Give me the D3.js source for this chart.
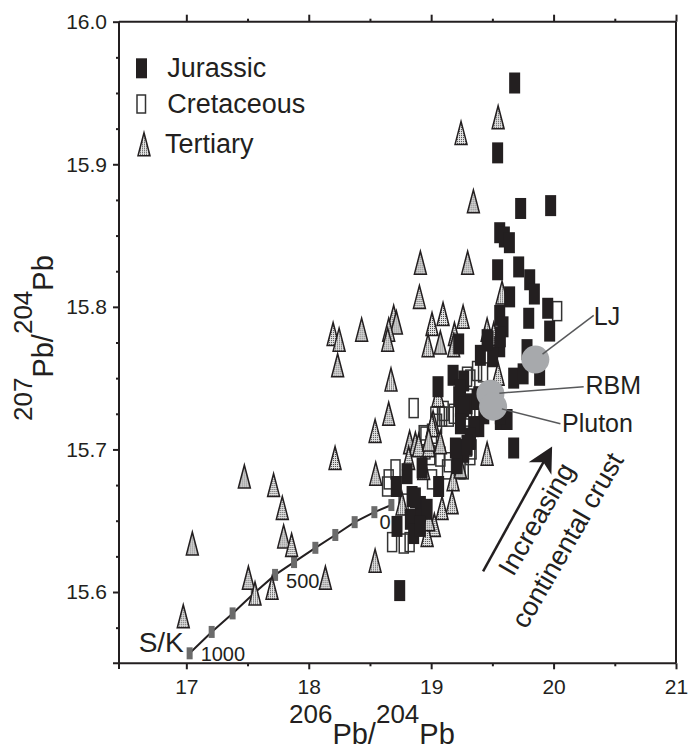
<!DOCTYPE html>
<html>
<head>
<meta charset="utf-8">
<script src="https://cdn.jsdelivr.net/npm/d3@7"></script>
<style>
  body { margin: 0; background: #fff; }
  text { font-family: "Liberation Sans", Arial, Helvetica, sans-serif; fill: #231f20; }
</style>
</head>
<body>
<div id="chart"></div>
<script>
// 206Pb/204Pb , 207Pb/204Pb
const jurassic = [
  [19.682,15.957],[19.543,15.908],[19.731,15.869],[19.976,15.871],[19.560,15.852],[19.598,15.849],
  [19.639,15.845],[19.543,15.826],[19.715,15.828],[19.805,15.819],[19.843,15.809],[19.641,15.807],
  [19.560,15.794],[19.587,15.786],[19.797,15.792],[19.952,15.799],[19.968,15.783],[19.225,15.774],
  [19.465,15.776],[19.560,15.772],[19.402,15.766],[19.502,15.765],[19.886,15.752],[19.179,15.752],
  [19.266,15.748],[19.056,15.744],[19.674,15.750],[19.751,15.753],[19.239,15.739],[19.783,15.770],
  [19.565,15.779],[19.457,15.777],[19.565,15.721],[19.674,15.701],[19.430,15.725],[19.389,15.716],
  [19.320,15.707],[19.266,15.698],[19.212,15.690],[19.239,15.730],[19.225,15.737],[19.293,15.732],
  [19.389,15.737],[19.239,15.742],[19.266,15.730],[19.239,15.718],[19.212,15.700],[19.347,15.716],
  [19.320,15.708],[19.620,15.721],[18.926,15.687],[18.803,15.683],[18.716,15.674],[18.844,15.667],
  [18.912,15.660],[18.967,15.658],[19.061,15.674],[18.830,15.651],[18.721,15.646],[18.857,15.641],
  [18.743,15.601],[18.871,15.666],[18.912,15.646],[19.198,15.701],[19.293,15.703],[19.375,15.735],
  [19.565,15.725]
];
const cretaceous = [
  [20.029,15.797],[19.424,15.754],[19.320,15.749],[18.857,15.729],[19.089,15.723],[19.144,15.723],
  [19.185,15.725],[18.953,15.709],[19.007,15.711],[19.075,15.695],[19.144,15.691],[19.239,15.686],
  [18.709,15.686],[18.640,15.674],[18.681,15.635],[18.776,15.634],[18.824,15.635],[19.048,15.718],
  [18.993,15.696],[18.653,15.679],[19.293,15.702],[19.007,15.679],[18.775,15.662],[19.293,15.751],
  [18.939,15.710],[19.034,15.723],[19.102,15.727],[19.320,15.728],[19.293,15.723],[18.953,15.700],
  [19.266,15.686],[19.130,15.686],[19.320,15.696],[19.375,15.755],[19.330,15.700]
];
const tertiary = [
  [19.547,15.933],[19.244,15.922],[19.345,15.874],[18.912,15.831],[19.298,15.831],[18.904,15.807],
  [18.694,15.793],[18.716,15.789],[18.653,15.784],[18.645,15.777],[19.007,15.788],[19.097,15.795],
  [19.261,15.793],[19.075,15.775],[18.975,15.773],[19.190,15.781],[18.432,15.784],[18.199,15.781],
  [18.248,15.777],[18.236,15.759],[18.672,15.749],[18.653,15.725],[18.542,15.713],[18.215,15.694],
  [18.547,15.683],[17.474,15.681],[17.713,15.675],[17.784,15.659],[17.795,15.639],[17.860,15.633],
  [17.049,15.634],[18.542,15.622],[17.507,15.610],[17.561,15.599],[17.700,15.603],[18.136,15.610],
  [16.975,15.583],[19.579,15.810],[19.457,15.784],[19.511,15.781],[19.547,15.753],[19.056,15.738],
  [19.457,15.697],[19.016,15.719],[18.824,15.705],[18.871,15.704],[19.075,15.705],[19.179,15.679],
  [19.171,15.663],[19.089,15.659],[19.026,15.647],[18.967,15.640],[18.762,15.662],[18.980,15.651],
  [18.939,15.687],[19.239,15.688],[18.816,15.694],[18.898,15.703],[18.980,15.703],[19.184,15.773],
  [19.007,15.717],[18.980,15.707]
];

// Stacey & Kramers growth curve, 1000 Ma to 0 Ma
const skAge = [1000, 900, 800, 700, 600, 500, 400, 300, 200, 100, 0];
const sk206 = [17.027, 17.207, 17.378, 17.551, 17.725, 17.880, 18.054, 18.217, 18.375, 18.536, 18.675];
const sk207 = [15.557, 15.572, 15.585, 15.599, 15.612, 15.621, 15.631, 15.640, 15.649, 15.656, 15.661];

// intrusive bodies (grey circles)
const bodyNames = ["LJ", "RBM", "Pluton"];
const body206 = [19.851, 19.484, 19.506];
const body207 = [15.763, 15.739, 15.730];
const bodyLabel206 = [20.328, 20.260, 20.069];
const bodyLabel207 = [15.787, 15.739, 15.712];
const bodyLineEnd206 = [20.328, 20.246, 20.056];
const bodyLineEnd207 = [15.794, 15.744, 15.718];

const xTicks = [17, 18, 19, 20, 21];
const xMinor = [17.5, 18.5, 19.5, 20.5];
const yTicks = [15.6, 15.7, 15.8, 15.9, 16.0];
const yMinor = [15.575, 15.625, 15.65, 15.675, 15.725, 15.75, 15.775, 15.825, 15.85, 15.875, 15.925, 15.95, 15.975];

const width = 695, height = 750;
const svg = d3.select("#chart").append("svg")
  .attr("width", width).attr("height", height);

const x = d3.scaleLinear().domain([16.45, 21]).range([119, 676]);
const y = d3.scaleLinear().domain([15.55, 16.0]).range([663.3, 21.7]);

// stipple fill for the Tertiary triangles
const pat = svg.append("defs").append("pattern")
  .attr("id", "stip").attr("patternUnits", "userSpaceOnUse")
  .attr("width", 2).attr("height", 2);
pat.append("rect").attr("width", 2).attr("height", 2).attr("fill", "#e4e4e4");
pat.append("rect").attr("width", 1).attr("height", 1).attr("fill", "#444");

// axes
function styleAxis(g) {
  g.select(".domain").remove();
  g.selectAll(".tick line").attr("stroke", "#231f20").attr("stroke-width", 2);
  g.selectAll(".tick text").attr("font-size", 21).attr("fill", "#231f20")
    .attr("font-family", '"Liberation Sans", Arial, sans-serif');
}
svg.append("g").attr("transform", "translate(0,663.3)")
  .call(d3.axisBottom(x).tickValues(xTicks).tickSize(6).tickPadding(10).tickFormat(d3.format("d")))
  .call(styleAxis);
svg.append("g").attr("transform", "translate(0,663.3)")
  .call(d3.axisBottom(x).tickValues(xMinor).tickSize(3).tickFormat(""))
  .call(styleAxis);
svg.append("g").attr("transform", "translate(0,21.7)")
  .call(d3.axisTop(x).tickValues(xTicks).tickSize(7).tickFormat(""))
  .call(styleAxis);
svg.append("g").attr("transform", "translate(0,21.7)")
  .call(d3.axisTop(x).tickValues(xMinor).tickSize(3).tickFormat(""))
  .call(styleAxis);
svg.append("g").attr("transform", "translate(119,0)")
  .call(d3.axisLeft(y).tickValues(yTicks).tickSize(6).tickPadding(6).tickFormat(d3.format(".1f")))
  .call(styleAxis);
svg.append("g").attr("transform", "translate(119,0)")
  .call(d3.axisLeft(y).tickValues(yMinor).tickSize(3).tickFormat(""))
  .call(styleAxis);

// frame
const frame = svg.append("g").attr("stroke", "#231f20").attr("stroke-width", 2);
frame.append("line").attr("x1", 113).attr("x2", 676).attr("y1", y(15.55)).attr("y2", y(15.55));
frame.append("line").attr("x1", 119).attr("x2", 676).attr("y1", y(16)).attr("y2", y(16));
frame.append("line").attr("x1", x(16.45)).attr("x2", x(16.45)).attr("y1", y(16)).attr("y2", 669);
frame.append("line").attr("x1", x(21)).attr("x2", x(21)).attr("y1", y(16)).attr("y2", y(15.55));

// axis titles
const xt = svg.append("text").attr("x", 289).attr("y", 744);
xt.append("tspan").attr("font-size", 26).attr("dy", -21).text("206");
xt.append("tspan").attr("font-size", 29).attr("dy", 21).text("Pb/");
xt.append("tspan").attr("font-size", 26).attr("dy", -21).text("204");
xt.append("tspan").attr("font-size", 29).attr("dy", 21).text("Pb");

const yt = svg.append("text").attr("transform", "translate(53,421) rotate(-90)");
yt.append("tspan").attr("font-size", 26).attr("dy", -21).text("207");
yt.append("tspan").attr("font-size", 29).attr("dy", 21).text("Pb/");
yt.append("tspan").attr("font-size", 26).attr("dy", -21).text("204");
yt.append("tspan").attr("font-size", 29).attr("dy", 21).text("Pb");

// S/K growth curve
const sk = skAge.map((a, i) => ({age: a, x: sk206[i], y: sk207[i]}));
svg.append("path").datum(sk)
  .attr("fill", "none").attr("stroke", "#231f20").attr("stroke-width", 2)
  .attr("d", d3.line().x(d => x(d.x)).y(d => y(d.y)));
svg.selectAll("rect.sk").data(sk).join("rect").attr("class", "sk")
  .attr("x", d => x(d.x) - 3).attr("y", d => y(d.y) - 6)
  .attr("width", 6).attr("height", 12).attr("fill", "#6b6b6b");

svg.append("text").attr("x", x(sk[0].x) - 51).attr("y", y(sk[0].y) - 1)
  .attr("font-size", 28).text("S/K");
svg.append("text").attr("x", x(sk[0].x) + 11).attr("y", y(sk[0].y) + 8)
  .attr("font-size", 20).text("1000");
svg.append("text").attr("x", x(sk[5].x) - 8).attr("y", y(sk[5].y) + 26)
  .attr("font-size", 20).text("500");
svg.append("text").attr("x", x(sk[10].x) - 12).attr("y", y(sk[10].y) + 24)
  .attr("font-size", 20).attr("font-family", '"Liberation Serif", "Times New Roman", serif').text("0");

// samples
const tri = "M0,-11.5L6,11.5L-6,11.5Z";
svg.selectAll("rect.cret").data(cretaceous).join("rect").attr("class", "cret")
  .attr("x", d => x(d[0]) - 4.5).attr("y", d => y(d[1]) - 9.5)
  .attr("width", 9).attr("height", 19)
  .attr("fill", "none").attr("stroke", "#333").attr("stroke-width", 1.5);
svg.selectAll("path.tert").data(tertiary).join("path").attr("class", "tert")
  .attr("transform", d => `translate(${x(d[0])},${y(d[1])})`)
  .attr("d", tri).attr("fill", "url(#stip)").attr("stroke", "#231f20").attr("stroke-width", 1.5);
svg.selectAll("rect.jur").data(jurassic).join("rect").attr("class", "jur")
  .attr("x", d => x(d[0]) - 5.5).attr("y", d => y(d[1]) - 10.5)
  .attr("width", 11).attr("height", 21).attr("fill", "#231f20");

// grey circles + leader lines
const bodies = bodyNames.map((n, i) => ({
  name: n, x: body206[i], y: body207[i],
  lx: bodyLabel206[i], ly: bodyLabel207[i], ex: bodyLineEnd206[i], ey: bodyLineEnd207[i]
}));
svg.selectAll("circle.body").data(bodies).join("circle").attr("class", "body")
  .attr("cx", d => x(d.x)).attr("cy", d => y(d.y)).attr("r", 14).attr("fill", "#a7a9ac");
svg.selectAll("line.lead").data(bodies).join("line").attr("class", "lead")
  .attr("x1", d => {
    const dx = x(d.ex) - x(d.x), dy = y(d.ey) - y(d.y), l = Math.hypot(dx, dy);
    return x(d.x) + dx / l * 9;
  })
  .attr("y1", d => {
    const dx = x(d.ex) - x(d.x), dy = y(d.ey) - y(d.y), l = Math.hypot(dx, dy);
    return y(d.y) + dy / l * 9;
  })
  .attr("x2", d => x(d.ex)).attr("y2", d => y(d.ey))
  .attr("stroke", "#58595b").attr("stroke-width", 1.5);
svg.selectAll("text.body").data(bodies).join("text").attr("class", "body")
  .attr("x", d => x(d.lx)).attr("y", d => y(d.ly)).attr("font-size", 25).text(d => d.name);

// arrow: increasing continental crust
const arrowFrom = [19.424, 15.6145], arrowTo = [19.988, 15.702];
const ax1 = x(arrowFrom[0]), ay1 = y(arrowFrom[1]), ax2 = x(arrowTo[0]), ay2 = y(arrowTo[1]);
const ang = Math.atan2(ay2 - ay1, ax2 - ax1);
const ux = Math.cos(ang), uy = Math.sin(ang), px = -uy, py = ux;
svg.append("line").attr("x1", ax1).attr("y1", ay1)
  .attr("x2", ax2 - ux * 15).attr("y2", ay2 - uy * 15)
  .attr("stroke", "#231f20").attr("stroke-width", 2.5);
svg.append("path").attr("fill", "#231f20")
  .attr("d", `M${ax2},${ay2}L${ax2 - ux*25 + px*13},${ay2 - uy*25 + py*13}L${ax2 - ux*18},${ay2 - uy*18}L${ax2 - ux*25 - px*13},${ay2 - uy*25 - py*13}Z`);

const captionLines = ["Increasing", "continental crust"];
const caption206 = [19.925, 20.178];
const caption207 = [15.648, 15.633];
svg.selectAll("text.cap").data(captionLines).join("text").attr("class", "cap")
  .attr("transform", (d, i) => `translate(${x(caption206[i])},${y(caption207[i])}) rotate(-60)`)
  .attr("text-anchor", "middle").attr("font-size", 27).text(d => d);

// legend
const legendNames = ["Jurassic", "Cretaceous", "Tertiary"];
const lg = svg.append("g");
legendNames.forEach((n, i) => {
  const cy = [68.3, 104, 144.3][i];
  if (i === 0) lg.append("rect").attr("x", 136).attr("y", cy - 10).attr("width", 11).attr("height", 20).attr("fill", "#231f20");
  if (i === 1) lg.append("rect").attr("x", 137).attr("y", cy - 9).attr("width", 8.5).attr("height", 18)
    .attr("fill", "#fff").attr("stroke", "#333").attr("stroke-width", 1.5);
  if (i === 2) lg.append("path").attr("transform", `translate(144,${cy})`).attr("d", tri)
    .attr("fill", "url(#stip)").attr("stroke", "#231f20").attr("stroke-width", 1.5);
  lg.append("text").attr("x", i === 2 ? 165 : 167.3).attr("y", [77.3, 113.3, 153][i])
    .attr("font-size", 27).text(n);
});
</script>
</body>
</html>
